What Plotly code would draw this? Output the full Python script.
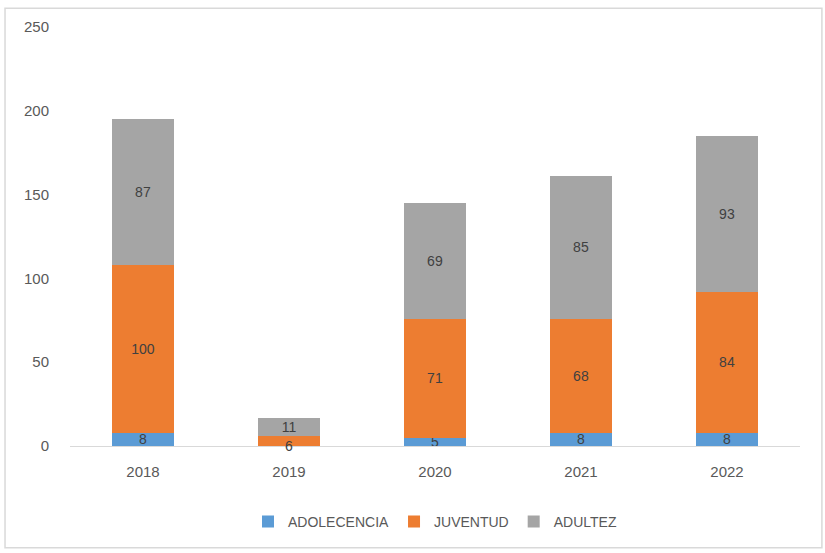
import plotly.graph_objects as go

# Casos por grupo de edad y año
years = ["2018", "2019", "2020", "2021", "2022"]
adolescencia = [8, 0, 5, 8, 8]
juventud = [100, 6, 71, 68, 84]
adultez = [87, 11, 69, 85, 93]

y_ticks = [0, 50, 100, 150, 200, 250]

label_font = dict(color="#404040", size=14, family="Liberation Sans")

# Orange segments thinner than this get their label drawn at the segment base
THIN = 8


def seg_labels(vals, min_val):
    return [str(v) if v >= min_val else "" for v in vals]


series = [
    ("ADOLECENCIA", adolescencia, "#5B9BD5", seg_labels(adolescencia, 1)),
    ("JUVENTUD", juventud, "#ED7D31", seg_labels(juventud, THIN)),
    ("ADULTEZ", adultez, "#A5A5A5", seg_labels(adultez, 1)),
]

fig = go.Figure()
for name, vals, color, labels in series:
    fig.add_trace(go.Bar(
        name=name,
        x=years,
        y=vals,
        marker=dict(color=color, line=dict(width=0)),
        text=labels,
        textposition="inside",
        insidetextanchor="middle",
        textangle=0,
        constraintext="none",
        textfont=label_font,
    ))

# On a category axis a numeric position is the category index
for i, v in enumerate(juventud):
    if 0 < v < THIN:
        fig.add_annotation(
            x=i, y=adolescencia[i],
            text=str(v), showarrow=False,
            yanchor="middle", font=label_font,
        )

fig.update_layout(
    barmode="stack",
    bargap=0.58,
    width=825,
    height=553,
    margin=dict(l=70, r=25, t=27, b=107),
    paper_bgcolor="white",
    plot_bgcolor="white",
    font=dict(family="Liberation Sans", size=14, color="#595959"),
    uniformtext=dict(minsize=8, mode="show"),
    legend=dict(
        orientation="h",
        x=0.5, xanchor="center",
        y=-0.181, yanchor="middle",
        font=dict(size=14, color="#595959"),
        itemwidth=30,
        traceorder="normal",
    ),
    xaxis=dict(
        type="category",
        showgrid=False,
        showline=True,
        linecolor="#D9D9D9",
        linewidth=1,
        ticks="outside",
        ticklen=12,
        tickcolor="rgba(0,0,0,0)",
        tickfont=dict(size=15, color="#595959"),
        zeroline=False,
    ),
    yaxis=dict(
        range=[0, 250],
        tickvals=y_ticks,
        showgrid=False,
        showline=False,
        zeroline=False,
        ticks="",
        ticklabelstandoff=20,
        tickfont=dict(size=15, color="#595959"),
    ),
    shapes=[dict(
        type="rect", xref="paper", yref="paper",
        x0=-0.089, x1=1.030, y0=-0.243, y1=1.045,
        line=dict(color="#D9D9D9", width=1.5),
        fillcolor="rgba(0,0,0,0)",
        layer="below",
    )],
)

fig.write_html("out.html")
